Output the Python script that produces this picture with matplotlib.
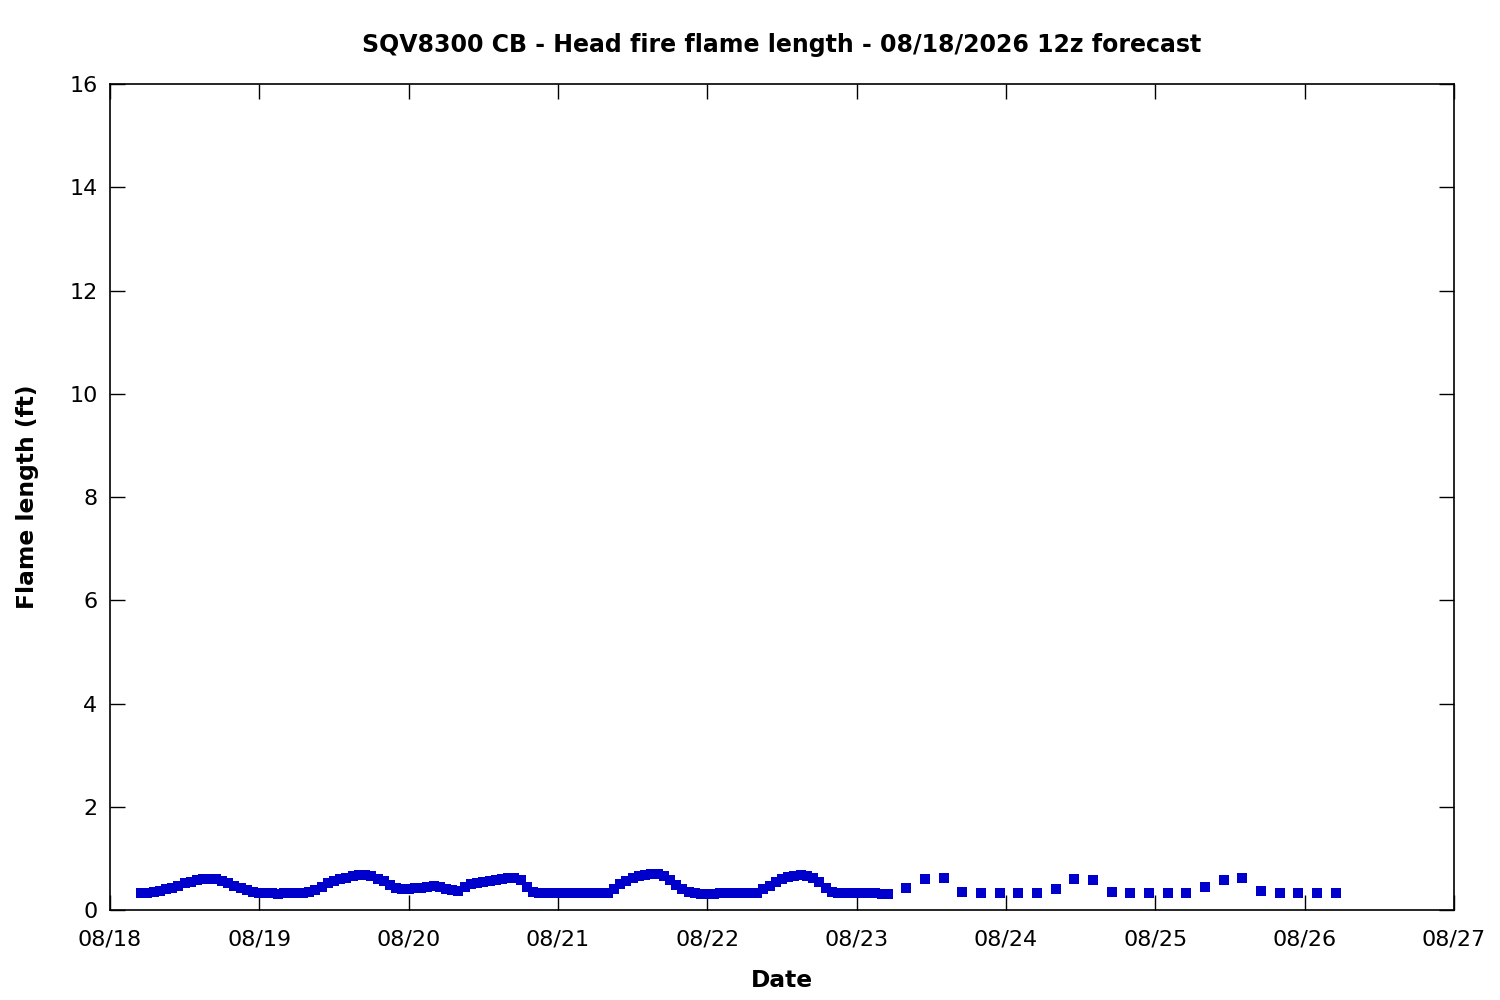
import matplotlib
matplotlib.use("Agg")
import matplotlib.pyplot as plt
from datetime import datetime, timedelta

title = "SQV8300 CB - Head fire flame length - 08/18/2026 12z forecast"
start = datetime(2026, 8, 18)

# hourly section: hours after 08/18 00:00
hourly_hours = list(range(5, 126))
hourly_values = [
    0.32, 0.33, 0.34, 0.37, 0.40, 0.43, 0.47, 0.52, 0.55, 0.58,
    0.60, 0.61, 0.60, 0.57, 0.53, 0.47, 0.42, 0.38, 0.35, 0.33,
    0.32, 0.32, 0.31, 0.33, 0.33, 0.32, 0.33, 0.34, 0.38, 0.45,
    0.52, 0.57, 0.60, 0.62, 0.65, 0.67, 0.67, 0.65, 0.61, 0.56,
    0.48, 0.43, 0.40, 0.41, 0.42, 0.43, 0.45, 0.46, 0.45, 0.41,
    0.38, 0.37, 0.45, 0.50, 0.53, 0.55, 0.57, 0.59, 0.61, 0.62,
    0.62, 0.58, 0.44, 0.35, 0.33, 0.33, 0.33, 0.33, 0.33, 0.33,
    0.33, 0.33, 0.33, 0.33, 0.33, 0.33, 0.40, 0.50, 0.57, 0.62,
    0.65, 0.68, 0.69, 0.70, 0.66, 0.58, 0.48, 0.40, 0.35, 0.32,
    0.31, 0.31, 0.31, 0.33, 0.33, 0.33, 0.33, 0.33, 0.33, 0.33,
    0.40, 0.47, 0.54, 0.60, 0.63, 0.66, 0.67, 0.66, 0.62, 0.55,
    0.43, 0.35, 0.33, 0.33, 0.33, 0.33, 0.33, 0.33, 0.33, 0.31,
    0.31,
]

# 3-hourly section
three_hourly_hours = list(range(128, 198, 3))
three_hourly_values = [
    0.43, 0.60, 0.62, 0.35, 0.33, 0.33, 0.33, 0.33, 0.41, 0.60,
    0.59, 0.35, 0.33, 0.32, 0.32, 0.32, 0.45, 0.59, 0.62, 0.37,
    0.32, 0.32, 0.32, 0.32,
]

hours = hourly_hours + three_hourly_hours
values = hourly_values + three_hourly_values
times = [start + timedelta(hours=h) for h in hours]

tick_labels = ["08/18", "08/19", "08/20", "08/21", "08/22", "08/23",
               "08/24", "08/25", "08/26", "08/27"]
tick_dates = [start + timedelta(days=i) for i in range(len(tick_labels))]

fig = plt.figure(figsize=(15, 10), dpi=100)
ax = fig.add_axes([0.0733, 0.09, 0.896, 0.826])
ax.plot(times, values, linestyle="none", marker="s", markersize=6.5,
        color="#0000cc", markeredgewidth=0)

ax.set_xlim(tick_dates[0], tick_dates[-1])
ax.set_ylim(0, 16)
ax.set_xticks(tick_dates)
ax.set_xticklabels(tick_labels)
ax.set_yticks(range(0, 17, 2))

ax.tick_params(axis="both", direction="in", length=11, width=1,
               top=True, right=True, labelsize=16, colors="black")
ax.tick_params(axis="x", pad=14)
ax.tick_params(axis="y", pad=9)
for s in ax.spines.values():
    s.set_linewidth(1.2)

ax.set_title(title, fontsize=17, fontweight="bold", pad=23)
ax.set_xlabel("Date", fontsize=16.8, fontweight="bold", labelpad=14)
ax.set_ylabel("Flame length (ft)", fontsize=16.8, fontweight="bold", labelpad=22)

fig.savefig("out.png", dpi=100)
